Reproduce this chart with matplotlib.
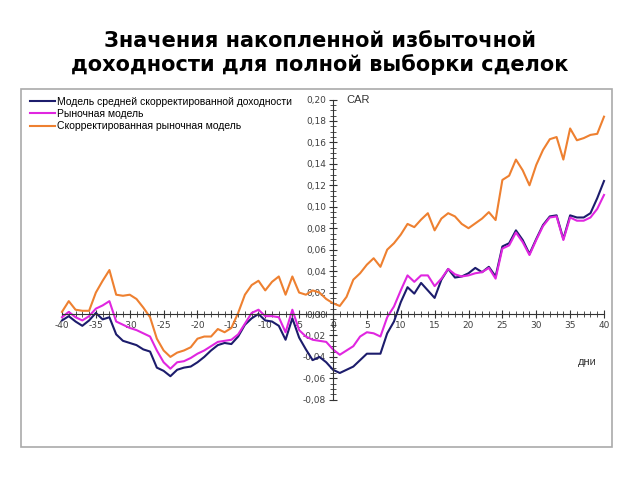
import matplotlib
matplotlib.use("Agg")
import matplotlib.pyplot as plt
from matplotlib.patches import Rectangle
from matplotlib.ticker import FixedLocator, FuncFormatter
import numpy as np

plt.rcParams['font.family'] = ['Liberation Sans', 'DejaVu Sans']

days = list(range(-40, 41))

car_mean_adj = [
    -0.006, -0.002, -0.007, -0.011, -0.006, 0.001, -0.005, -0.003, -0.019, -0.025,
    -0.027, -0.029, -0.033, -0.035, -0.050, -0.053, -0.058, -0.052, -0.050, -0.049,
    -0.045, -0.040, -0.034, -0.029, -0.027, -0.028, -0.021, -0.010, -0.004, 0.000,
    -0.006, -0.007, -0.011, -0.024, -0.004, -0.022, -0.033, -0.043, -0.040, -0.045,
    -0.052, -0.055, -0.052, -0.049, -0.043, -0.037, -0.037, -0.037, -0.018, -0.007,
    0.011, 0.025, 0.019, 0.029, 0.022, 0.015, 0.032, 0.042, 0.034, 0.035,
    0.038, 0.043, 0.039, 0.044, 0.035, 0.063, 0.066, 0.078, 0.069, 0.056,
    0.070, 0.083, 0.091, 0.092, 0.070, 0.092, 0.090, 0.090, 0.094, 0.108,
    0.124,
]

car_market = [
    -0.003, 0.002, -0.003, -0.006, -0.002, 0.005, 0.008, 0.012, -0.007, -0.010,
    -0.013, -0.015, -0.018, -0.021, -0.034, -0.045, -0.051, -0.045, -0.044, -0.041,
    -0.037, -0.034, -0.030, -0.026, -0.025, -0.024, -0.019, -0.009, 0.001, 0.004,
    -0.002, -0.002, -0.003, -0.017, 0.004, -0.015, -0.021, -0.024, -0.025, -0.026,
    -0.033, -0.038, -0.034, -0.030, -0.021, -0.017, -0.018, -0.021, -0.003, 0.007,
    0.022, 0.036, 0.030, 0.036, 0.036, 0.026, 0.033, 0.042, 0.037, 0.035,
    0.036, 0.038, 0.039, 0.043, 0.033, 0.061, 0.064, 0.076, 0.067, 0.055,
    0.069, 0.082, 0.090, 0.091, 0.069, 0.090, 0.087, 0.087, 0.090, 0.098,
    0.111,
]

car_market_adj = [
    0.002, 0.012, 0.004, 0.003, 0.003, 0.020, 0.031, 0.041, 0.018, 0.017,
    0.018, 0.014, 0.006, -0.003, -0.023, -0.034, -0.040, -0.036, -0.034, -0.031,
    -0.023, -0.021, -0.021, -0.014, -0.017, -0.013, 0.001, 0.018, 0.027, 0.031,
    0.022, 0.030, 0.035, 0.018, 0.035, 0.020, 0.018, 0.022, 0.020, 0.014,
    0.010, 0.0075, 0.016, 0.032, 0.038, 0.046, 0.052, 0.044, 0.060, 0.066,
    0.074, 0.084, 0.081, 0.088, 0.094, 0.078, 0.089, 0.094, 0.091, 0.084,
    0.080, 0.0845, 0.089, 0.095, 0.0876, 0.125, 0.129, 0.144, 0.134, 0.120,
    0.139, 0.153, 0.163, 0.165, 0.144, 0.173, 0.162, 0.164, 0.167, 0.168,
    0.184,
]

labels = ["Модель средней скорректированной доходности",
          "Рыночная модель",
          "Скорректированная рыночная модель"]
colors = ["#1c1c6c", "#e026e0", "#ee8030"]

x_major = np.arange(-40, 41, 5)
y_major = np.arange(-0.08, 0.2001, 0.02)

fig = plt.figure(figsize=(6.4, 4.8), dpi=100)
fig.text(0.5, 0.89, "Значения накопленной избыточной\nдоходности для полной выборки сделок",
         ha="center", va="center", fontsize=15, fontweight="bold", linespacing=1.2,
         family="DejaVu Sans")

ax = fig.add_axes([21 / 640, 33 / 480, 591 / 640, 358 / 480])
ax.set_xlim(-46.05, 41.18)
ax.set_ylim(-0.124, 0.2098)

for s, c, lab in zip([car_mean_adj, car_market, car_market_adj], colors, labels):
    ax.plot(days, s, color=c, lw=1.5, label=lab)

ax.spines['left'].set_position(('data', 0))
ax.spines['bottom'].set_position(('data', 0))
ax.spines['right'].set_visible(False)
ax.spines['top'].set_visible(False)
for sp in ['left', 'bottom']:
    ax.spines[sp].set_color('#333333')
    ax.spines[sp].set_linewidth(0.8)
ax.spines['left'].set_bounds(-0.08, 0.20)
ax.spines['bottom'].set_bounds(-40, 40)

ax.xaxis.set_major_locator(FixedLocator(x_major))
ax.xaxis.set_minor_locator(FixedLocator(np.arange(-40, 41, 1)))
ax.yaxis.set_major_locator(FixedLocator(y_major))
ax.yaxis.set_minor_locator(FixedLocator(np.arange(-0.08, 0.2001, 0.005)))
ax.xaxis.set_major_formatter(FuncFormatter(lambda v, p: f"{v:.0f}"))
ax.yaxis.set_major_formatter(FuncFormatter(lambda v, p: f"{v:.2f}".replace(".", ",").replace("-0,00", "0,00")))
ax.tick_params(which='major', direction='inout', length=6, width=0.8, color='#333333',
               labelsize=6.5, labelcolor='#404040', pad=2)
ax.tick_params(which='minor', direction='inout', length=4, width=0.6, color='#333333')
for t in ax.get_xticklabels() + ax.get_yticklabels():
    t.set_family("DejaVu Sans")

ax.add_patch(Rectangle((0, 0), 1, 1, transform=ax.transAxes, fill=False,
                       edgecolor='#aaaaaa', lw=1.2, clip_on=False))

ax.text(2.0, 0.1995, "CAR", fontsize=8, color='#333333', va='center', ha='left')
ax.text(36.2, -0.0448, "дни", fontsize=8, color='#333333', va='center', ha='left')

ax.legend(loc='upper left', bbox_to_anchor=(0.005, 0.995), frameon=False, fontsize=7.5,
          handlelength=2.4, handletextpad=0.2, labelspacing=0.2, borderaxespad=0.2)

fig.savefig("out.png", dpi=100)
